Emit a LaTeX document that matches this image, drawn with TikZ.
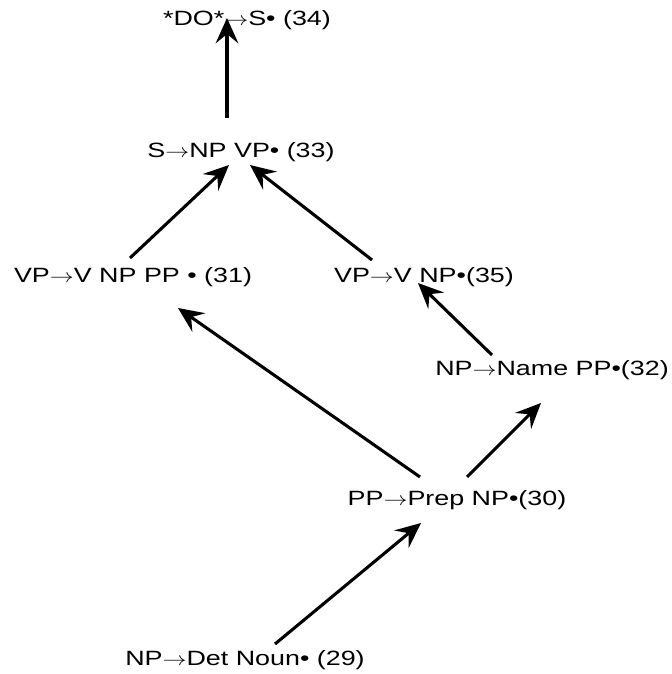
\documentclass[tikz,border=0pt]{standalone}
\usepackage{fontspec}
\setmainfont{Liberation Sans}[FakeStretch=1.3]
\usepackage{tikz}
\usetikzlibrary{arrows.meta, calc}
\newcommand{\yields}{\scalebox{1.25}[1]{$\rightarrow$}}

\begin{document}
\begin{tikzpicture}[
    x=0.75pt, y=-0.75pt,
    item/.style={inner sep=0pt, font=\fontsize{15.5}{18}\selectfont},
    link/.style={line width=2.3pt, -{Stealth[length=19pt, width=17pt, inset=7pt]}}
  ]
  \useasboundingbox (0,0) rectangle (671,674);

  \node[item] (top)    at (247,20)  {*DO*\yields S• (34)};
  \node[item] (s)      at (241,152) {S\yields NP VP• (33)};
  \node[item] (vpa)    at (133,277) {VP\yields V NP PP • (31)};
  \node[item] (vpb)    at (424,277) {VP\yields V NP•(35)};
  \node[item] (npname) at (552,370) {NP\yields Name PP•(32)};
  \node[item] (pp)     at (457,500) {PP\yields Prep NP•(30)};
  \node[item] (npdet)  at (245,660) {NP\yields Det Noun• (29)};

  \draw[link] ($(s)+(-14,-34)$)      -- ($(top)+(-20,-2)$);
  \draw[link] ($(vpa)+(-3,-19)$)     -- ($(s)+(-12,13)$);
  \draw[link] ($(vpb)+(-52,-17)$)    -- ($(s)+(9,13)$);
  \draw[link] ($(npname)+(-60,-15)$) -- ($(vpb)+(-6,6)$);
  \draw[link] ($(pp)+(-37,-23)$)     -- ($(vpa)+(45,31)$);
  \draw[link] ($(pp)+(10,-23)$)      -- ($(npname)+(-11,33)$);
  \draw[link] ($(npdet)+(30,-16)$)   -- ($(pp)+(-36,23)$);
\end{tikzpicture}
\end{document}
